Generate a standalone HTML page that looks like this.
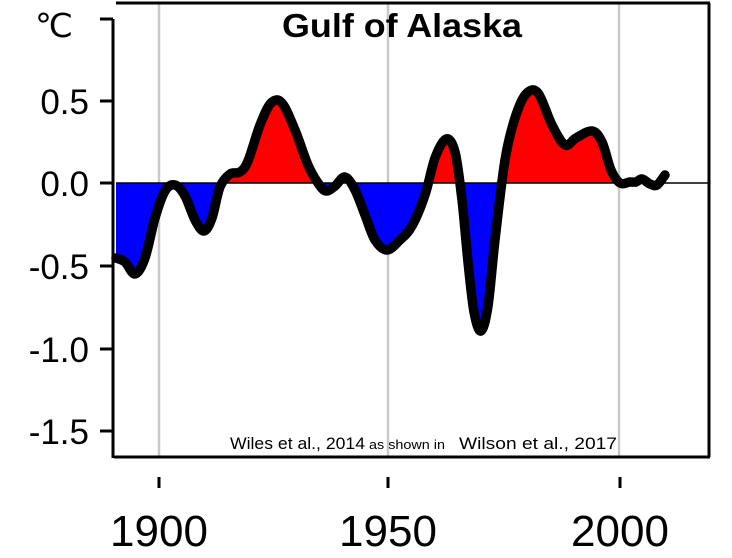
<!DOCTYPE html>
<html><head><meta charset="utf-8"><style>
html,body{margin:0;padding:0;background:#fff;width:732px;height:558px;overflow:hidden}
svg{display:block}
</style></head><body>
<svg id="s" width="732" height="558" xmlns="http://www.w3.org/2000/svg">
<defs>
<clipPath id="up"><rect x="116" y="0" width="600" height="183"/></clipPath>
<clipPath id="dn"><rect x="116" y="183" width="600" height="300"/></clipPath>
</defs>
<rect width="732" height="558" fill="#fff"/>
<g stroke="#c8c8c8" stroke-width="2.5">
<line x1="159" y1="4" x2="159" y2="456"/>
<line x1="388" y1="4" x2="388" y2="456"/>
<line x1="619" y1="4" x2="619" y2="456"/>
</g>
<path id="fillU" clip-path="url(#up)" fill="#ff0000"/>
<path id="fillD" clip-path="url(#dn)" fill="#0000ff"/>
<line x1="116" y1="183" x2="710" y2="183" stroke="#000" stroke-width="1.5"/>
<path id="line" fill="none" stroke="#000" stroke-width="9.5" stroke-linejoin="round" stroke-linecap="round"/>
<g stroke="#000" stroke-width="3" fill="none">
<line x1="116" y1="3" x2="710" y2="3"/>
<line x1="709" y1="3" x2="709" y2="457"/>
<line x1="114" y1="457" x2="710" y2="457"/>
<line x1="113" y1="19" x2="113" y2="458"/>
<line x1="100" y1="19" x2="113" y2="19"/>
<line x1="100" y1="101" x2="113" y2="101"/>
<line x1="100" y1="183" x2="113" y2="183"/>
<line x1="100" y1="266" x2="113" y2="266"/>
<line x1="100" y1="349" x2="113" y2="349"/>
<line x1="100" y1="431" x2="113" y2="431"/>
<line x1="159" y1="477" x2="159" y2="488"/>
<line x1="388" y1="477" x2="388" y2="488"/>
<line x1="620" y1="477" x2="620" y2="488"/>
</g>
<g font-family="Liberation Sans, sans-serif" font-size="35" fill="#000" text-anchor="end">
<text x="89" y="114">0.5</text>
<text x="89" y="196">0.0</text>
<text x="89" y="279">-0.5</text>
<text x="89" y="362">-1.0</text>
<text x="89" y="444">-1.5</text>
</g>
<text x="35" y="37" font-family="DejaVu Sans, sans-serif" font-size="33" textLength="38" lengthAdjust="spacingAndGlyphs">℃</text>
<g font-family="Liberation Sans, sans-serif" font-size="44" text-anchor="middle">
<text x="159" y="546">1900</text>
<text x="388" y="546">1950</text>
<text x="620" y="546">2000</text>
</g>
<text x="282" y="37" font-family="Liberation Sans, sans-serif" font-weight="bold" font-size="33" textLength="240" lengthAdjust="spacingAndGlyphs">Gulf of Alaska</text>
<g font-family="Liberation Sans, sans-serif">
<text x="230" y="449" font-size="17" textLength="135" lengthAdjust="spacingAndGlyphs">Wiles et al., 2014</text>
<text x="369" y="449" font-size="13" textLength="76" lengthAdjust="spacingAndGlyphs">as shown in</text>
<text x="459" y="449" font-size="17" textLength="158" lengthAdjust="spacingAndGlyphs">Wilson et al., 2017</text>
</g>
</svg>
<script>
var P=[[116,258],[125,262],[135,274],[145,258],[155,218],[165,191],[175,185],[185,196],[195,220],[204,231],[212,218],[220,187],[230,174],[240,172],[248,161],[260,125],[271,103],[282,103],[295,130],[308,165],[318,183],[326,191],[335,186],[345,177],[355,190],[365,215],[375,240],[387,250],[400,240],[412,226],[425,195],[435,158],[446,139],[455,152],[462,200],[468,262],[474,312],[481,331],[488,306],[495,240],[505,160],[515,118],[526,94],[538,93],[552,125],[565,145],[576,138],[592,131],[602,142],[611,170],[620,183],[630,182],[636,182],[642,179],[650,184],[657,185],[665,175]];
function cr(p){var d="M"+p[0][0]+","+p[0][1];for(var i=0;i<p.length-1;i++){var a=p[i-1]||p[i],b=p[i],c=p[i+1],e=p[i+2]||c;d+=" C"+(b[0]+(c[0]-a[0])/6)+","+(b[1]+(c[1]-a[1])/6)+" "+(c[0]-(e[0]-b[0])/6)+","+(c[1]-(e[1]-b[1])/6)+" "+c[0]+","+c[1];}return d;}
var d=cr(P);
document.getElementById("line").setAttribute("d",d);
var f=d+" L665,183 L116,183 Z";
document.getElementById("fillU").setAttribute("d",f);
document.getElementById("fillD").setAttribute("d",f);
</script>
</body></html>
